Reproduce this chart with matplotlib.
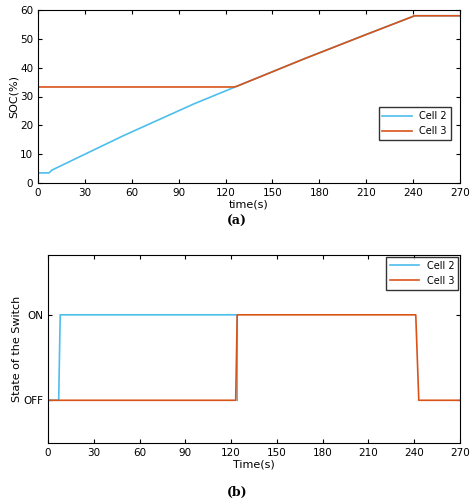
import matplotlib
matplotlib.use("Agg")
import matplotlib.pyplot as plt

t2 = [0, 7, 9, 55, 100, 127, 170, 210, 241, 270]
soc2 = [3.5, 3.5, 4.5, 16.5, 27.5, 33.5, 43.0, 51.5, 58.0, 58.0]
t3 = [0, 125, 127, 170, 210, 241, 270]
soc3 = [33.3, 33.3, 33.5, 43.0, 51.5, 58.0, 58.0]

ts2 = [0, 7, 8, 124, 124]
sw2 = [0, 0, 1, 1, 0]
ts3 = [0, 123, 124, 241, 243, 270]
sw3 = [0, 0, 1, 1, 0, 0]

c2 = "#4DBEEE"
c3 = "#D95319"
xt = list(range(0, 271, 30))

fig = plt.figure(figsize=(4.74, 5.04), dpi=100)
ax1 = fig.add_axes([38/474, 1-183/504, 422/474, 173/504])
ax1.plot(t2, soc2, color=c2, lw=1.2, label="Cell 2")
ax1.plot(t3, soc3, color=c3, lw=1.2, label="Cell 3")
ax1.set_xlim(0, 270); ax1.set_ylim(0, 60)
ax1.set_xticks(xt); ax1.set_yticks(range(0, 61, 10))
ax1.set_xlabel("time(s)", fontsize=8, labelpad=1)
ax1.set_ylabel("SOC(%)", fontsize=8, labelpad=1)
ax1.tick_params(labelsize=7.5, direction="in", top=True, right=True, length=3)
ax1.legend(loc="lower right", bbox_to_anchor=(0.99, 0.22), fontsize=7, frameon=True,
           fancybox=False, edgecolor="black", handlelength=3)
fig.text(0.5, 1-225/504, "(a)", ha="center", fontsize=9, fontweight="bold", family="serif")

ax2 = fig.add_axes([48/474, 1-443/504, 412/474, 188/504])
ax2.plot(ts2, sw2, color=c2, lw=1.2, label="Cell 2")
ax2.plot(ts3, sw3, color=c3, lw=1.2, label="Cell 3")
ax2.set_xlim(0, 270); ax2.set_ylim(-0.5, 1.7)
ax2.set_xticks(xt); ax2.set_yticks([0, 1]); ax2.set_yticklabels(["OFF", "ON"])
ax2.set_xlabel("Time(s)", fontsize=8, labelpad=1)
ax2.set_ylabel("State of the Switch", fontsize=8, labelpad=1)
ax2.tick_params(labelsize=7.5, direction="in", top=True, right=True, length=3)
ax2.legend(loc="upper right", fontsize=7, frameon=True, fancybox=False,
           edgecolor="black", handlelength=3, borderaxespad=0.2)
fig.text(0.5, 1-496/504, "(b)", ha="center", fontsize=9, fontweight="bold", family="serif")

fig.savefig("out.png", dpi=100)
